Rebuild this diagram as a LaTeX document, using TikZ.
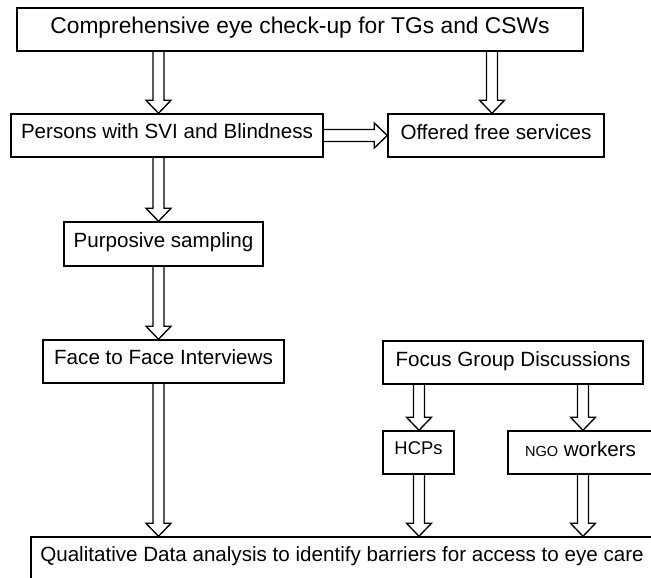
\documentclass[tikz,border=0pt]{standalone}
\usepackage{fontspec}
\setmainfont{Liberation Sans}
\usetikzlibrary{calc}
\tikzset{
  box/.style={draw, line width=1.1pt, inner sep=0pt, anchor=base,
    font=\fontsize{15.45pt}{18pt}\selectfont},
  harrow/.style={draw, line width=1pt, line join=miter},
}
\newcommand\downhollow[2]{%
  \draw[harrow] let \p1=#1, \p2=#2 in
    (\x1-4.125pt,\y1) -- (\x1-4.125pt,\y2+9.75pt) -- (\x1-9.375pt,\y2+9.75pt)
    -- (\x1,\y2) -- (\x1+9.375pt,\y2+9.75pt) -- (\x1+4.125pt,\y2+9.75pt)
    -- (\x1+4.125pt,\y1);
}
\newcommand\righthollow[2]{%
  \draw[harrow] let \p1=#1, \p2=#2 in
    (\x1,\y1+4.5pt) -- (\x2-9.75pt,\y1+4.5pt) -- (\x2-9.75pt,\y1+9.375pt)
    -- (\x2,\y1) -- (\x2-9.75pt,\y1-9.375pt) -- (\x2-9.75pt,\y1-4.5pt)
    -- (\x1,\y1-4.5pt);
}
\begin{document}
\begin{tikzpicture}[x=0.75pt,y=-0.75pt]
\useasboundingbox (0,0) rectangle (651,578);
\clip (0,0) rectangle (651,578);
\fill[white] (0,0) rectangle (651,578);

\node[box, minimum width=424.5pt, text height=18.75pt, text depth=13.5pt,
  font=\fontsize{17.1pt}{20pt}\selectfont]
  (top) at (300,33) {Comprehensive eye check-up for TGs and CSWs};
\node[box, minimum width=234pt, text height=18pt, text depth=14.25pt]
  (per) at (167,138) {Persons with SVI and Blindness};
\node[box, minimum width=162pt, text height=18.75pt, text depth=13.5pt]
  (off) at (496,139) {Offered free services};
\node[box, minimum width=149.25pt, text height=18.75pt, text depth=14.25pt]
  (pur) at (163.5,247) {Purposive sampling};
\node[box, minimum width=180.75pt, text height=18pt, text depth=14.25pt]
  (fac) at (163.5,364) {Face to Face Interviews};
\node[box, minimum width=195pt, text height=18.75pt, text depth=13.5pt]
  (foc) at (513,366) {Focus Group Discussions};
\node[box, minimum width=53.25pt, text height=17.25pt, text depth=15pt,
  font=\fontsize{13.8pt}{16pt}\selectfont]
  (hcp) at (418.5,454) {HCPs};
\node[box, minimum width=108.75pt, text height=18.75pt, text depth=13.5pt]
  (ngo) at (580.5,456) {{\fontsize{10.9pt}{12pt}\selectfont NGO} workers};
\node[box, minimum width=466.5pt, text height=18pt, text depth=30pt]
  (qda) at (342,561) {Qualitative Data analysis to identify barriers for access to eye care};

\coordinate (cL) at (158.5,0);
\coordinate (cR) at (492,0);
\coordinate (cH) at (419,0);
\coordinate (cN) at (583,0);

\downhollow{(cL |- top.south)}{(cL |- per.north)}
\downhollow{(cR |- top.south)}{(cR |- off.north)}
\righthollow{(per.east)}{(off.west)}
\downhollow{(cL |- per.south)}{(cL |- pur.north)}
\downhollow{(cL |- pur.south)}{(cL |- fac.north)}
\downhollow{(cL |- fac.south)}{(cL |- qda.north)}
\downhollow{(cH |- foc.south)}{(cH |- hcp.north)}
\downhollow{(cN |- foc.south)}{(cN |- ngo.north)}
\downhollow{(cH |- hcp.south)}{(cH |- qda.north)}
\downhollow{(cN |- ngo.south)}{(cN |- qda.north)}
\end{tikzpicture}
\end{document}
